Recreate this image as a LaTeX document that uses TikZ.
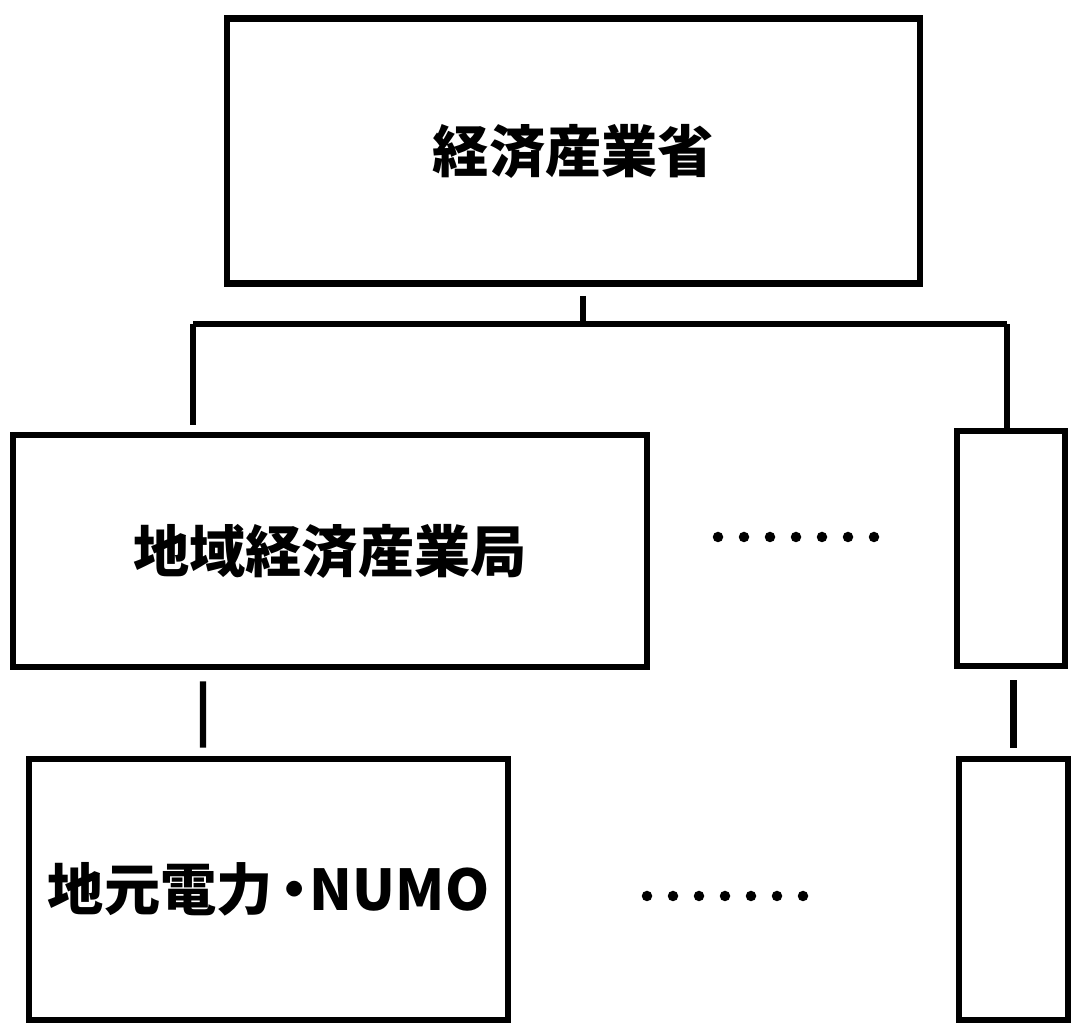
\documentclass[tikz,border=0pt]{standalone}
\usepackage{fontspec}
\newfontfamily\jp{Noto Sans CJK JP}
\usepackage{tikz}
\usetikzlibrary{positioning}

\tikzset{
  office/.style={draw, line width=3.8pt, rectangle, font=\jp\bfseries\fontsize{32}{36}\selectfont, inner sep=0pt},
  link/.style={line width=3.6pt}
}

\begin{document}
\begin{tikzpicture}[x=0.02cm,y=-0.02cm]
		\useasboundingbox (0,0) rectangle (1080,1033);

		\node[office, minimum width=13.86cm, minimum height=5.3cm ] (meti)   at (573.5,151)   {経済産業省};
		\node[office, minimum width=12.68cm, minimum height=4.64cm] (bureau) at (330,551)     {地域経済産業局};
		\node[office, minimum width=2.16cm,  minimum height=4.7cm ] (other1) at (1011,548.5)  {};
		\node[office, minimum width=9.58cm,  minimum height=5.22cm] (local)  at (268.5,889.5) {地元電力\kern-0.12em・\kern-0.22em NUMO};
		\node[office, minimum width=2.18cm,  minimum height=5.22cm] (other2) at (1013.5,889.5) {};

		\coordinate (bus)  at (583,324);
		\coordinate (busL) at (193,324);
		\coordinate (busR) at (1007,324);

		\draw[link] (meti.south -| bus) ++(0,9) -- (bus);
		\draw[link] (busL) -- (busR);
		\draw[link] (busL) -- ([yshift=0.14cm]bureau.north -| busL);
		\draw[link] (busR) -- (other1.north -| busR);
		\draw[link] ([xshift=-2.54cm,yshift=-0.22cm]bureau.south) -- ([xshift=-1.31cm,yshift=0.16cm]local.north);
		\draw[link] ([yshift=-0.22cm]other1.south -| other2.north) -- ([yshift=0.16cm]other2.north);

		\foreach \i in {0,...,6} {
			\fill (718+26*\i,537) circle (0.105cm);
			\fill (647+26*\i,896) circle (0.105cm);
		}

	\end{tikzpicture}
\end{document}
